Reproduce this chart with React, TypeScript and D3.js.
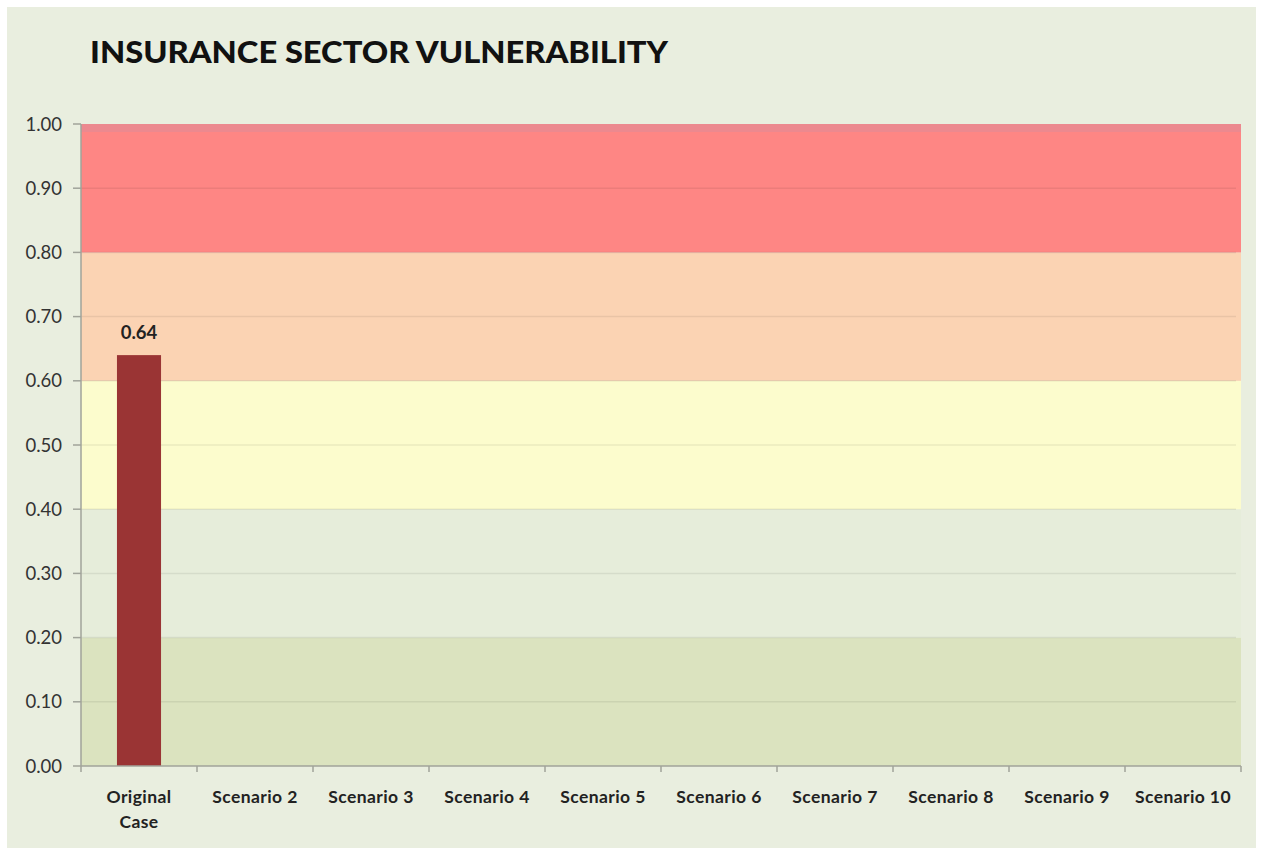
import React from "react";
import * as d3 from "d3";

// chart data
const categories = [
  "Original Case",
  "Scenario 2",
  "Scenario 3",
  "Scenario 4",
  "Scenario 5",
  "Scenario 6",
  "Scenario 7",
  "Scenario 8",
  "Scenario 9",
  "Scenario 10",
];
const values = [0.64, null, null, null, null, null, null, null, null, null];
const yTicks = [0, 0.1, 0.2, 0.3, 0.4, 0.5, 0.6, 0.7, 0.8, 0.9, 1.0];
const bandStops = [0, 0.2, 0.4, 0.6, 0.8, 1.0];
const bandColors = ["#dbe3bf", "#e6edda", "#fcfccd", "#fbd3b3", "#fe8684"];

const W = 1261;
const H = 851;
const margin = { top: 124, right: 20, bottom: 85, left: 81 };

const App = () => {
  const x = d3
    .scaleBand()
    .domain(categories)
    .range([margin.left, 1241])
    .paddingInner(0)
    .paddingOuter(0);

  const y = d3.scaleLinear().domain([0, 1]).range([766, 124]);

  const barW = x.bandwidth() * 0.38;
  const font = "Lato, 'Open Sans', sans-serif";

  return (
    <svg width={W} height={H} style={{ display: "block", position: "absolute", left: 0, top: 0 }}>
      <rect x={0} y={0} width={W} height={H} fill="#ffffff" />
      <rect x={7} y={7} width={1249} height={841} fill="#e9eedf" />

      {/* title */}
      <text
        x={90}
        y={63}
        fontFamily={font}
        fontWeight="900"
        fontSize={31}
        fill="#111"
        textLength={578}
        lengthAdjust="spacingAndGlyphs"
      >
        INSURANCE SECTOR VULNERABILITY
      </text>

      {/* risk bands */}
      {bandColors.map((c, i) => (
        <rect
          key={"band" + i}
          x={margin.left}
          y={y(bandStops[i + 1])}
          width={1241 - margin.left}
          height={y(bandStops[i]) - y(bandStops[i + 1])}
          fill={c}
        />
      ))}
      {/* darker strip at top of the red band */}
      <rect x={margin.left} y={y(1)} width={1241 - margin.left} height={8} fill="#e78a92" opacity={0.8} />

      {/* gridlines */}
      {yTicks.slice(1, -1).map((t) => (
        <line
          key={"g" + t}
          x1={margin.left}
          x2={1236}
          y1={y(t)}
          y2={y(t)}
          stroke="#000"
          strokeOpacity={0.07}
          strokeWidth={1.5}
        />
      ))}

      {/* y axis */}
      <line x1={margin.left} x2={margin.left} y1={y(1)} y2={y(0)} stroke="#a0a39a" strokeWidth={1.5} />
      {yTicks.map((t) => (
        <g key={"yt" + t}>
          <line x1={73} x2={margin.left} y1={y(t)} y2={y(t)} stroke="#a0a39a" strokeWidth={1.5} />
          <text
            x={62}
            y={y(t)}
            dy="0.36em"
            textAnchor="end"
            fontFamily={font}
            fontSize={18.5}
            fill="#333"
          >
            {d3.format(".2f")(t)}
          </text>
        </g>
      ))}

      {/* bars */}
      {categories.map((c, i) =>
        values[i] == null ? null : (
          <g key={"bar" + c}>
            <rect
              x={x(c)! + x.bandwidth() / 2 - barW / 2}
              y={y(values[i]!)}
              width={barW}
              height={y(0) - y(values[i]!)}
              fill="#9a3434"
            />
            <text
              x={x(c)! + x.bandwidth() / 2}
              y={y(values[i]!) - 16}
              textAnchor="middle"
              fontFamily={font}
              fontWeight="bold"
              fontSize={18.5}
              fill="#222"
            >
              {d3.format(".2f")(values[i]!)}
            </text>
          </g>
        )
      )}

      {/* x axis */}
      <line x1={margin.left} x2={1241} y1={y(0)} y2={y(0)} stroke="#a0a39a" strokeWidth={1.5} />
      {categories.map((c) => (
        <line
          key={"xt" + c}
          x1={x(c)!}
          x2={x(c)!}
          y1={y(0)}
          y2={y(0) + 6}
          stroke="#a0a39a"
          strokeWidth={1.5}
        />
      ))}
      <line x1={1241} x2={1241} y1={y(0)} y2={y(0) + 6} stroke="#a0a39a" strokeWidth={1.5} />
      {categories.map((c) => {
        const words = c === "Original Case" ? ["Original", "Case"] : [c];
        return (
          <text
            key={"xl" + c}
            x={x(c)! + x.bandwidth() / 2}
            y={803}
            textAnchor="middle"
            fontFamily={font}
            fontWeight="bold"
            fontSize={17.5}
            letterSpacing={0.4}
            fill="#222"
          >
            {words.map((w, k) => (
              <tspan key={w} x={x(c)! + x.bandwidth() / 2} dy={k === 0 ? 0 : 25}>
                {w}
              </tspan>
            ))}
          </text>
        );
      })}
    </svg>
  );
};

export default App;
